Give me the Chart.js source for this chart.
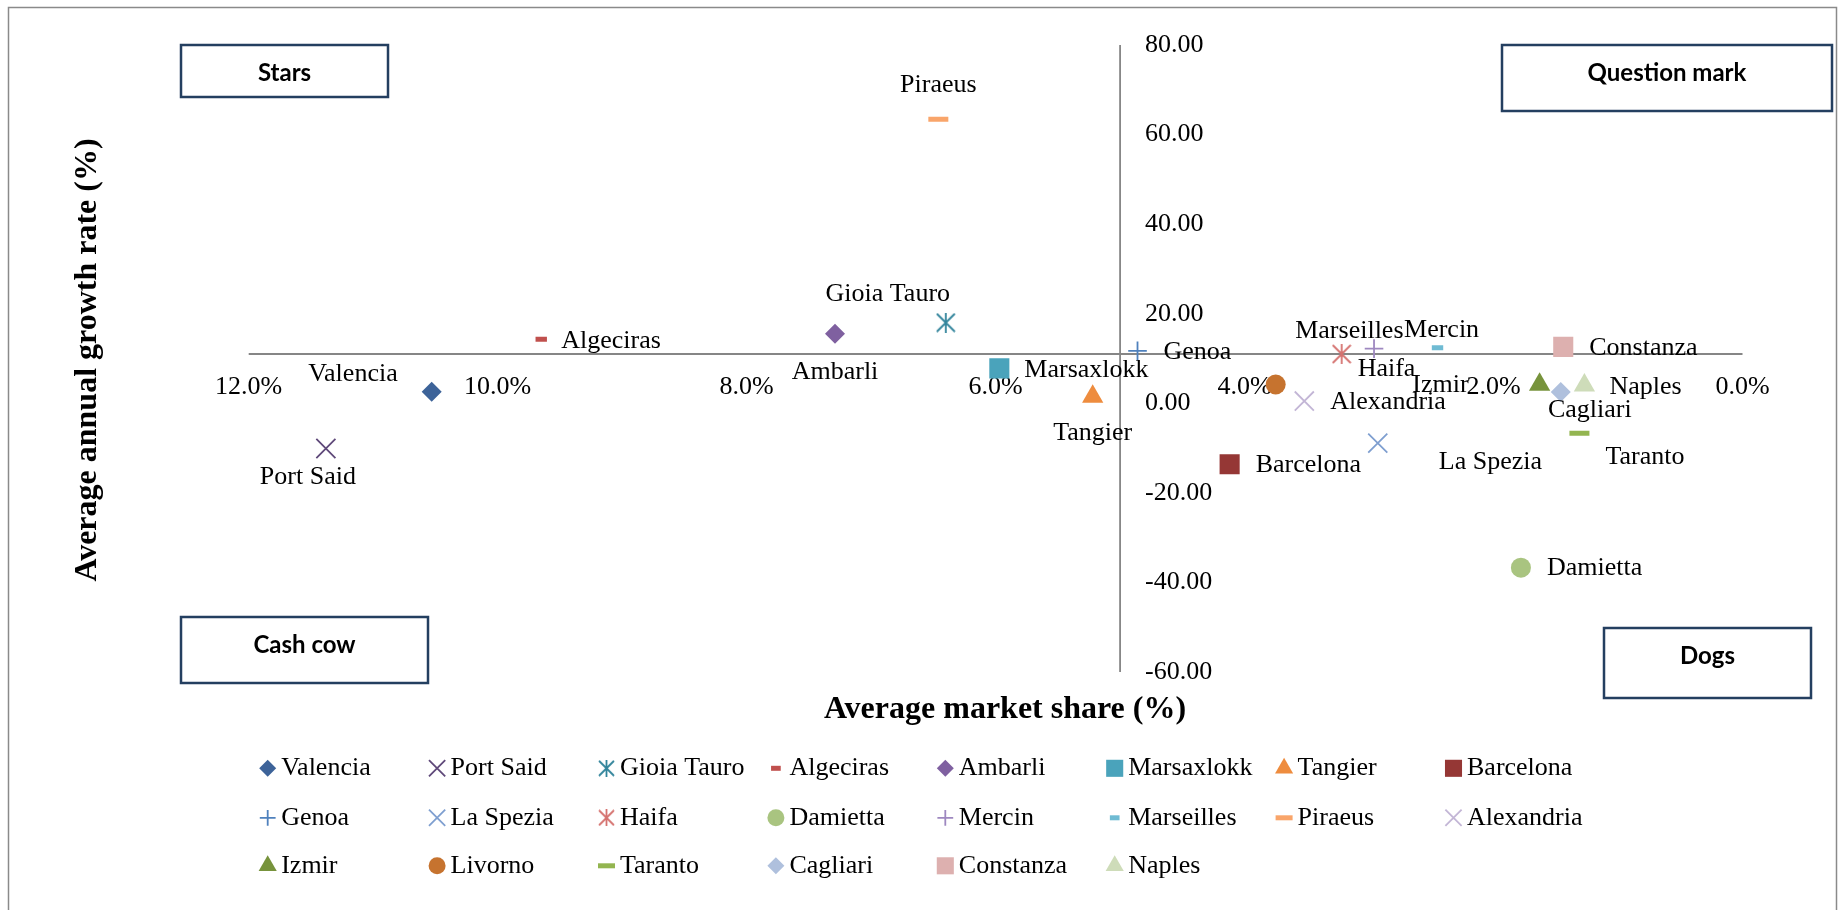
<!DOCTYPE html>
<html>
<head>
<meta charset="utf-8">
<title>Port portfolio matrix</title>
<script src="https://cdn.jsdelivr.net/npm/chart.js@4.4.1/dist/chart.umd.min.js"></script>
<style>
  html, body { margin: 0; padding: 0; background: #fff; overflow: hidden; }
  #wrap { position: relative; width: 1841px; height: 910px; }
</style>
</head>
<body>
<div id="wrap"><canvas id="bcg" role="img" aria-label="Growth-share matrix of Mediterranean container ports"></canvas></div>
<script>
/* ---- data ---- */
var ports = ["Valencia", "Port Said", "Gioia Tauro", "Algeciras", "Ambarli", "Marsaxlokk", "Tangier", "Barcelona",
             "Genoa", "La Spezia", "Haifa", "Damietta", "Mercin", "Marseilles", "Piraeus", "Alexandria",
             "Izmir", "Livorno", "Taranto", "Cagliari", "Constanza", "Naples"];
var marketShare = [10.53, 11.38, 6.40, 9.65, 7.29, 5.97, 5.22, 4.12,
                   4.86, 2.93, 3.22, 1.78, 2.96, 2.45, 6.46, 3.52,
                   1.63, 3.75, 1.31, 1.46, 1.44, 1.27];
var growthRate = [2.6, -10.1, 18.0, 14.3, 15.5, 7.8, 1.5, -13.6,
                  11.7, -8.9, 11.0, -36.7, 12.2, 12.4, 63.4, 0.5,
                  4.2, 4.2, -6.7, 2.5, 12.6, 4.0];
var xTicks = [12, 10, 8, 6, 4, 2, 0];
var yTicks = [80, 60, 40, 20, 0, -20, -40, -60];
var crossShare = 5;    // growth axis crosses at 5 % market share
var crossGrowth = 11;  // share axis crosses at 11 % growth
var quadrants = ["Stars", "Question mark", "Cash cow", "Dogs"];
var xTitle = "Average market share (%)";
var yTitle = "Average annual growth rate (%)";

/* ---- styling ---- */
var SERIF = '"Liberation Serif", "Times New Roman", serif';
var SANS = 'Lato, "Open Sans", sans-serif';
var FILLED = ["rectRot", "rect", "triangle", "circle"];
var marker = [
  { s: "rectRot", r: 10, c: "#3D6399" },   { s: "crossRot", r: 13.5, c: "#5F497A" },
  { s: "asterisk", r: 10, c: "#31849B" },  { s: "line", r: 5.7, c: "#C0504D" },
  { s: "rectRot", r: 10, c: "#7F60A0" },   { s: "rect", r: 14.2, c: "#4AA3BB" },
  { s: "triangle", r: 12.3, c: "#EE8C3E" },{ s: "rect", r: 14.2, c: "#953735" },
  { s: "cross", r: 9.3, c: "#4F81BD" },    { s: "crossRot", r: 13.5, c: "#7F9FD0" },
  { s: "asterisk", r: 10, c: "#D5726F" },  { s: "circle", r: 10, c: "#A9C480" },
  { s: "cross", r: 9.3, c: "#9E88C0" },    { s: "line", r: 5.7, c: "#6FBBD3" },
  { s: "line", r: 10, c: "#F9A56A" },      { s: "crossRot", r: 13.5, c: "#C3B6D6" },
  { s: "triangle", r: 12.3, c: "#77933C" },{ s: "circle", r: 10, c: "#C6732F" },
  { s: "line", r: 10, c: "#93B550" },      { s: "rectRot", r: 10, c: "#AFC0DD" },
  { s: "rect", r: 14.2, c: "#DDB0AF" },    { s: "triangle", r: 12.3, c: "#CEDCB9" }
];
// data label: offset from the point (px) + text alignment; null = not labelled
var labelAt = [
  [-34, -17, "right"], [-18, 29, "center"], [-58, -28, "center"], [20, 2, "left"],
  [0, 38, "center"],   [25, 2, "left"],     [0, 37, "center"],    [26, 1, "left"],
  [26, 1, "left"],     [61, 19, "left"],    [16, 15, "left"],     [26, 1, "left"],
  [30, -18, "left"],   [-34, -17, "right"], [0, -34, "center"],   [26, 1, "left"],
  [-71, 1, "right"],   null,                [26, 24, "left"],     [29, 18, "center"],
  [26, 1, "left"],     [25, 2, "left"]
];
var boxes = [[181, 45, 207, 52], [1502, 45, 330, 66], [181, 617, 247, 66], [1604, 628, 207, 70]];
var LEGEND = { x0: 267.7, dx: 169.4, rows: [768.3, 817.8, 865.8], cols: 8, scale: 0.85 };

/* Excel-style star marker: an X plus a vertical stroke */
function asterisk(size, color) {
  var c = document.createElement("canvas");
  c.width = c.height = size;
  var g = c.getContext("2d");
  g.strokeStyle = color; g.lineWidth = 1.8;
  g.beginPath();
  g.moveTo(1, 1); g.lineTo(size - 1, size - 1);
  g.moveTo(size - 1, 1); g.lineTo(1, size - 1);
  g.moveTo(size / 2, 0); g.lineTo(size / 2, size);
  g.stroke();
  return c;
}
function styleFor(m, k) {
  return m.s === "asterisk" ? asterisk(Math.round(2 * m.r * k), m.c) : m.s;
}
function widthFor(m) {
  if (FILLED.indexOf(m.s) >= 0) return 0;
  return m.s === "line" ? 5 : 1.8;
}

var datasets = ports.map(function (name, i) {
  var m = marker[i];
  return {
    label: name,
    data: [{ x: marketShare[i], y: growthRate[i] }],
    pointStyle: styleFor(m, 1),
    pointRadius: m.r,
    pointBackgroundColor: m.c,
    pointBorderColor: m.c,
    pointBorderWidth: widthFor(m),
    showLine: false
  };
});

var matrixPlugin = {
  id: "matrix",
  beforeDatasetsDraw: function (chart) {
    var ctx = chart.ctx, sx = chart.scales.x, sy = chart.scales.y;
    var ax = sx.getPixelForValue(crossShare), ay = sy.getPixelForValue(crossGrowth);
    ctx.save();
    ctx.strokeStyle = "#8a8a8a"; ctx.lineWidth = 1.5;
    ctx.strokeRect(8.5, 7.5, 1828, 930);

    ctx.strokeStyle = "#868686"; ctx.lineWidth = 1.8;
    ctx.beginPath();
    ctx.moveTo(sx.getPixelForValue(xTicks[0]), ay); ctx.lineTo(sx.getPixelForValue(xTicks[xTicks.length - 1]), ay);
    ctx.moveTo(ax, sy.getPixelForValue(yTicks[0])); ctx.lineTo(ax, sy.getPixelForValue(yTicks[yTicks.length - 1]));
    ctx.stroke();

    ctx.fillStyle = "#000"; ctx.font = "26px " + SERIF; ctx.textBaseline = "middle";
    ctx.textAlign = "center";
    xTicks.forEach(function (v) { ctx.fillText(v.toFixed(1) + "%", sx.getPixelForValue(v), ay + 33); });
    ctx.textAlign = "left";
    yTicks.forEach(function (v) { ctx.fillText(v.toFixed(2), ax + 25, sy.getPixelForValue(v)); });

    ctx.font = "bold 24px " + SANS; ctx.textAlign = "center";
    boxes.forEach(function (b, i) {
      ctx.fillStyle = "#fff"; ctx.fillRect(b[0], b[1], b[2], b[3]);
      ctx.strokeStyle = "#243F60"; ctx.lineWidth = 2.5; ctx.strokeRect(b[0], b[1], b[2], b[3]);
      ctx.fillStyle = "#000"; ctx.fillText(quadrants[i], b[0] + b[2] / 2, b[1] + 28);
    });
    ctx.restore();
  },
  afterDatasetsDraw: function (chart) {
    var ctx = chart.ctx;
    ctx.save();
    ctx.fillStyle = "#000"; ctx.font = "26px " + SERIF; ctx.textBaseline = "middle";
    ports.forEach(function (name, i) {
      var p = labelAt[i];
      if (!p) return;
      var el = chart.getDatasetMeta(i).data[0];
      ctx.textAlign = p[2];
      ctx.fillText(name, el.x + p[0], el.y + p[1]);
    });

    // legend: fixed 8-column grid like the Excel original
    ports.forEach(function (name, i) {
      var m = marker[i], k = LEGEND.scale;
      var cx = LEGEND.x0 + (i % LEGEND.cols) * LEGEND.dx, cy = LEGEND.rows[Math.floor(i / LEGEND.cols)];
      ctx.fillStyle = m.c; ctx.strokeStyle = m.c; ctx.lineWidth = widthFor(m);
      Chart.helpers.drawPoint(ctx, { pointStyle: styleFor(m, k), radius: m.r * k, borderWidth: widthFor(m), rotation: 0 }, cx, cy);
      ctx.fillStyle = "#000"; ctx.textAlign = "left";
      ctx.fillText(name, cx + 13.5, cy);
    });

    ctx.font = "bold 32px " + SERIF; ctx.textAlign = "center";
    ctx.fillText(xTitle, 1005, 710);
    ctx.translate(88, 360); ctx.rotate(-Math.PI / 2);
    ctx.fillText(yTitle, 0, 0);
    ctx.restore();
  }
};

new Chart(document.getElementById("bcg"), {
  type: "scatter",
  data: { datasets: datasets },
  options: {
    responsive: true, maintainAspectRatio: false, animation: false, events: [],
    layout: { padding: { left: 248.7, right: 98.5, top: 45, bottom: 238 } },
    plugins: { legend: { display: false }, tooltip: { enabled: false } },
    scales: {
      x: { type: "linear", min: 0, max: 12, reverse: true, display: false },
      y: { type: "linear", min: -60, max: 80, display: false }
    }
  },
  plugins: [matrixPlugin]
});
</script>
</body>
</html>
